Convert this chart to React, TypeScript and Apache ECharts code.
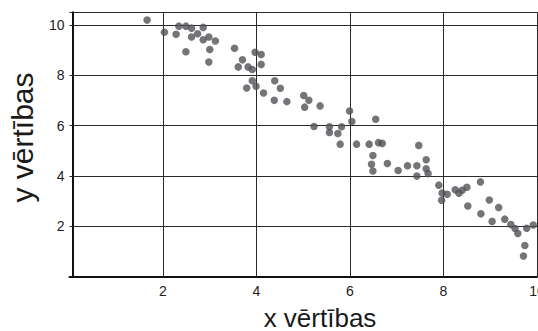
import React, { useEffect, useRef } from "react";
import * as echarts from "echarts";

const xValues: number[] = [
  1.66, 2.03, 2.28, 2.34, 2.49, 2.61, 2.61, 2.74, 2.86, 2.86,
  2.98, 3.12, 3.0, 2.49, 2.98, 3.53, 3.7, 3.61, 3.82, 3.91,
  3.97, 4.1, 4.1, 3.91, 3.79, 3.99, 4.15, 4.39, 4.51, 4.38,
  4.65, 5.01, 5.12, 5.03, 5.36, 5.23, 5.56, 5.56, 5.82, 5.74,
  5.99, 6.04, 6.55, 5.79, 6.14, 6.41, 6.61, 6.69, 7.47, 6.49,
  6.46, 6.49, 6.8, 7.03, 7.23, 7.43, 7.43, 7.63, 7.63, 7.67,
  7.9, 7.97, 8.08, 7.96, 8.25, 8.33, 8.4, 8.5, 8.79, 8.52,
  8.98, 8.8, 9.18, 9.04, 9.31, 9.44, 9.53, 9.59, 9.78, 9.92,
  9.74, 9.71,
];

const yValues: number[] = [
  10.19, 9.71, 9.63, 9.95, 9.95, 9.87, 9.52, 9.65, 9.9, 9.41,
  9.52, 9.36, 9.02, 8.93, 8.52, 9.07, 8.61, 8.33, 8.33, 8.23,
  8.91, 8.82, 8.43, 7.78, 7.49, 7.56, 7.29, 7.78, 7.48, 7.0,
  6.95, 7.19, 7.0, 6.73, 6.78, 5.96, 5.95, 5.72, 5.95, 5.68,
  6.58, 6.16, 6.25, 5.26, 5.26, 5.26, 5.32, 5.29, 5.21, 4.81,
  4.46, 4.19, 4.49, 4.21, 4.4, 4.4, 3.99, 4.64, 4.28, 4.09,
  3.63, 3.32, 3.27, 3.03, 3.45, 3.31, 3.43, 3.55, 3.76, 2.8,
  3.04, 2.49, 2.74, 2.19, 2.28, 2.07, 1.91, 1.71, 1.92, 2.05,
  1.23, 0.81,
];

const xTitle = "x vērtības";
const yTitle = "y vērtības";

const FONT = "'Liberation Sans', Arial, Helvetica, sans-serif";

export default function App() {
  const ref = useRef<HTMLDivElement>(null);

  useEffect(() => {
    if (!ref.current) return;
    const chart = echarts.init(ref.current, null, { renderer: "svg" });
    const points = xValues.map((x, i) => [x, yValues[i]]);

    chart.setOption({
      animation: false,
      backgroundColor: "#ffffff",
      grid: {
        left: 69.5,
        right: 1,
        top: 12.3,
        bottom: 54.5,
        containLabel: false,
        outerBoundsMode: "none",
      },
      xAxis: {
        type: "value",
        min: 0,
        max: 10,
        interval: 2,
        axisLine: { show: true, onZero: false, lineStyle: { color: "#111", width: 2 } },
        axisTick: { show: false },
        axisLabel: {
          showMinLabel: false,
          margin: 7,
          fontSize: 14,
          color: "#222",
          fontFamily: FONT,
        },
        splitLine: {
          show: true,
          showMinLine: false,
          lineStyle: { color: "#2a2a2a", width: 1 },
        },
      },
      yAxis: {
        type: "value",
        min: 0,
        max: 10.5,
        interval: 2,
        offset: -3,
        axisLine: { show: true, onZero: false, lineStyle: { color: "#111", width: 2 } },
        axisTick: { show: false },
        axisLabel: {
          showMinLabel: false,
          margin: 8,
          fontSize: 14,
          color: "#222",
          fontFamily: FONT,
        },
        splitLine: {
          show: true,
          showMinLine: false,
          lineStyle: { color: "#2a2a2a", width: 1 },
        },
      },
      graphic: [
        {
          type: "text",
          x: 320,
          y: 317.5,
          style: {
            text: xTitle,
            fontSize: 26,
            fontFamily: FONT,
            fill: "#1a1a1a",
            align: "center",
            verticalAlign: "middle",
          },
        },
        {
          type: "text",
          x: 22.5,
          y: 137.5,
          rotation: Math.PI / 2,
          style: {
            text: yTitle,
            fontSize: 30,
            fontFamily: FONT,
            fill: "#1a1a1a",
            align: "center",
            verticalAlign: "middle",
          },
        },
      ],
      series: [
        {
          type: "scatter",
          data: points,
          symbol: "circle",
          symbolSize: 7.5,
          itemStyle: { color: "#505256" },
          clip: false,
        },
      ],
    });

    return () => chart.dispose();
  }, []);

  return (
    <div
      ref={ref}
      style={{ position: "absolute", left: 0, top: 0, width: 538, height: 331 }}
    />
  );
}
